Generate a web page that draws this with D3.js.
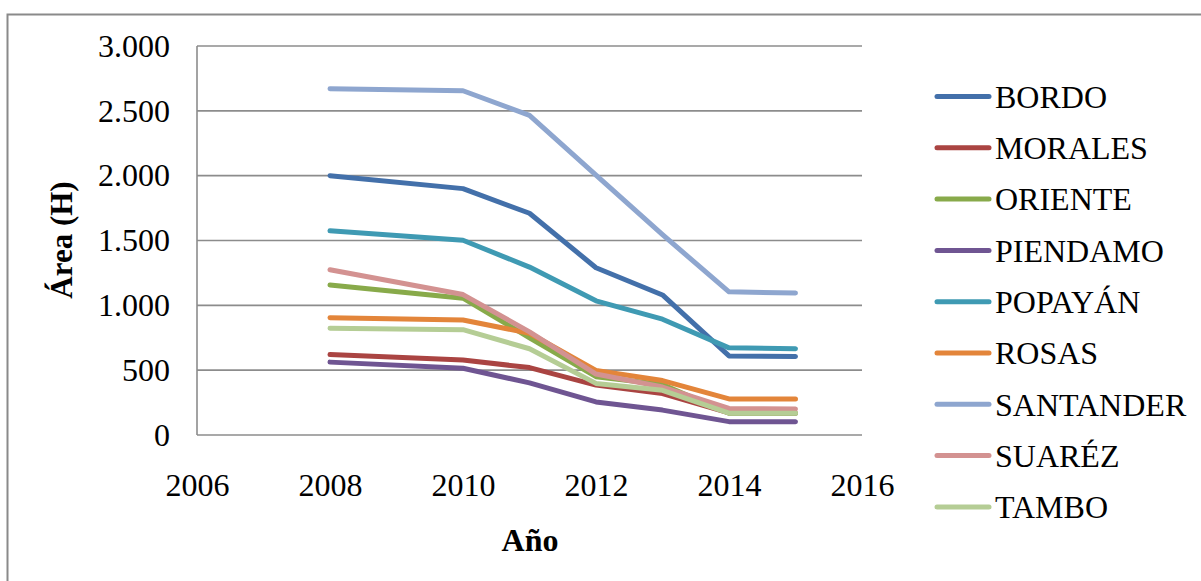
<!DOCTYPE html>
<html><head><meta charset="utf-8">
<script src="https://cdn.jsdelivr.net/npm/d3@7"></script>
</head>
<body style="margin:0;background:#fff">
<svg id="c" width="1201" height="581"></svg>
<script>
const years = [2008, 2010, 2011, 2012, 2013, 2014, 2015];
const seriesNames = ["BORDO","MORALES","ORIENTE","PIENDAMO","POPAYÁN","ROSAS","SANTANDER","SUARÉZ","TAMBO"];
const BORDO     = [2000, 1900, 1710, 1290, 1080, 610, 605];
const MORALES   = [620, 578, 520, 385, 320, 170, 168];
const ORIENTE   = [1157, 1055, 750, 450, 390, 168, 168];
const PIENDAMO  = [562, 515, 402, 255, 192, 103, 102];
const POPAYAN   = [1575, 1502, 1295, 1035, 893, 672, 665];
const ROSAS     = [905, 887, 785, 498, 420, 278, 278];
const SANTANDER = [2670, 2655, 2465, 2005, 1545, 1104, 1095];
const SUAREZ    = [1275, 1083, 795, 470, 370, 205, 200];
const TAMBO     = [824, 812, 665, 398, 345, 168, 168];
const seriesValues = [BORDO, MORALES, ORIENTE, PIENDAMO, POPAYAN, ROSAS, SANTANDER, SUAREZ, TAMBO];
const colors = ["#4370AA","#AA4442","#88AA4A","#6F5592","#3F9AB3","#E3853A","#8EA6CF","#D39291","#B5CD95"];
const xTicks = [2006, 2008, 2010, 2012, 2014, 2016];
const yTicks = [0, 500, 1000, 1500, 2000, 2500, 3000];
const yTickLabels = ["0","500","1.000","1.500","2.000","2.500","3.000"];

const FONT = "Liberation Serif";
const svg = d3.select("#c");
// outer frame
svg.append("path").attr("d","M7.5,581 V14.5 H1201").attr("fill","none").attr("stroke","#8a8a8a").attr("stroke-width",2);

const x = d3.scaleLinear().domain([2006, 2016]).range([197, 862]);
const y = d3.scaleLinear().domain([0, 3000]).range([435, 46]);

// gridlines
svg.append("g").selectAll("line").data(yTicks).join("line")
  .attr("x1", 197).attr("x2", 862)
  .attr("y1", d => y(d)).attr("y2", d => y(d))
  .attr("stroke", "#8c8c8c").attr("stroke-width", 1.6);
// y axis line
svg.append("line").attr("x1",197).attr("x2",197).attr("y1",y(3000)).attr("y2",y(0))
  .attr("stroke","#8c8c8c").attr("stroke-width",1.6);

// y axis labels
const yAxis = d3.axisLeft(y).tickValues(yTicks).tickSize(0).tickPadding(27)
  .tickFormat((d,i) => yTickLabels[i]);
const gy = svg.append("g").attr("transform","translate(197,0)").call(yAxis);
gy.select(".domain").remove();
gy.selectAll("text").style("font-family",FONT).style("font-size","32px").style("fill","#000");

// x axis labels
const xAxis = d3.axisBottom(x).tickValues(xTicks).tickSize(0).tickPadding(38).tickFormat(d3.format("d"));
const gx = svg.append("g").attr("transform","translate(0,435)").call(xAxis);
gx.select(".domain").remove();
gx.selectAll("text").style("font-family",FONT).style("font-size","32px").style("fill","#000");

// lines
const line = d3.line().x((d,i) => x(years[i])).y(d => y(d));
svg.append("g").selectAll("path").data(seriesValues).join("path")
  .attr("d", d => line(d))
  .attr("fill","none")
  .attr("stroke",(d,i) => colors[i])
  .attr("stroke-width",5)
  .attr("stroke-linejoin","round")
  .attr("stroke-linecap","round");

// axis titles
svg.append("text").attr("x",530).attr("y",551).attr("text-anchor","middle")
  .style("font-family",FONT).style("font-size","32px").style("font-weight","bold").text("Año");
svg.append("text").attr("transform","translate(72,240) rotate(-90)").attr("text-anchor","middle")
  .style("font-family",FONT).style("font-size","31px").style("font-weight","bold").text("Área (H)");

// legend
const lg = svg.append("g");
seriesNames.forEach((name, i) => {
  const yy = 96.5 + i * 51.3;
  lg.append("line").attr("x1",937).attr("x2",989).attr("y1",yy).attr("y2",yy)
    .attr("stroke",colors[i]).attr("stroke-width",5).attr("stroke-linecap","round");
  lg.append("text").attr("x",995).attr("y",yy).attr("dy","0.35em")
    .style("font-family",FONT).style("font-size","32px").text(name);
});
</script>
</body></html>
